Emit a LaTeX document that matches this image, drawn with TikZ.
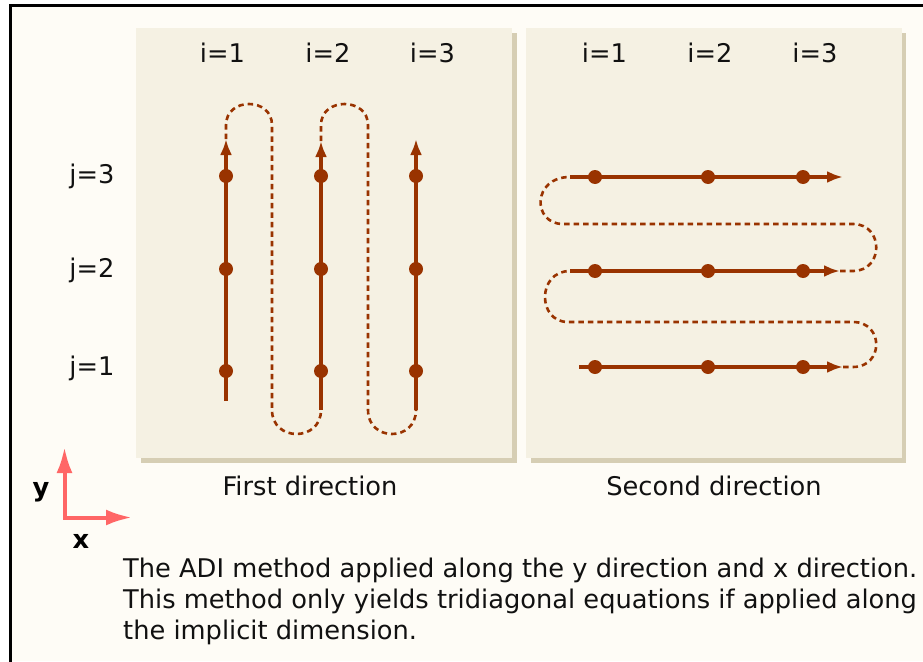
\documentclass[tikz,border=0pt]{standalone}
\usepackage{fontspec}
\setmainfont{DejaVu Sans}
\usetikzlibrary{arrows.meta}
\definecolor{bgc}{HTML}{FEFCF6}
\definecolor{panelc}{HTML}{F5F1E3}
\definecolor{shadowc}{HTML}{D6CEB4}
\definecolor{pathbrown}{HTML}{993300}
\definecolor{axisred}{HTML}{FF6666}
\definecolor{txt}{HTML}{111111}
\tikzset{
  solidarr/.style={draw=pathbrown, line width=3.5pt, -{Latex[length=16pt,width=12pt]}},
  dashc/.style={draw=pathbrown, line width=2.6pt, dash pattern=on 5.5pt off 4pt},
  dotn/.style={circle, fill=pathbrown, minimum size=14pt, inner sep=0pt},
  lab/.style={font=\fontsize{25.7}{30}\selectfont, inner sep=0pt, anchor=base, text=txt},
  caplab/.style={font=\fontsize{25.7}{30}\selectfont, inner sep=0pt, anchor=base west, text=txt},
  axlab/.style={font=\fontsize{25.7}{30}\selectfont\bfseries, inner sep=0pt, anchor=base, text=black},
  panelbox/.style={fill=panelc},
  shadowbox/.style={fill=shadowc},
  axisarr/.style={draw=axisred, line width=4pt, miter limit=10, {Latex[length=26pt,width=16pt]}-{Latex[length=26pt,width=16pt]}}
}
\begin{document}
\begin{tikzpicture}[x=1pt,y=-1pt]
\useasboundingbox (0,0) rectangle (923,661);
\clip (0,0) rectangle (923,661);
\fill[white] (0,0) rectangle (923,661);
\fill[bgc] (10,6) rectangle (923,661);
\draw[black, line width=3pt] (10,665) -- (10,6) -- (927,6);

% panels
\fill[shadowbox] (141,33) rectangle (517,463);
\fill[panelbox] (136,28) rectangle (512,458);
\fill[shadowbox] (531,33) rectangle (906,463);
\fill[panelbox] (526,28) rectangle (902,458);

% labels
\node[lab] (pi1) at (222.5,63) {i=1};
\node[lab] (pi2) at (328,63) {i=2};
\node[lab] (pi3) at (432.5,63) {i=3};
\node[lab] (qi1) at (604.5,63) {i=1};
\node[lab] (qi2) at (710,63) {i=2};
\node[lab] (qi3) at (815,63) {i=3};
\node[lab] (j3) at (92,183) {j=3};
\node[lab] (j2) at (92,277) {j=2};
\node[lab] (j1) at (92,375) {j=1};
\node[lab] (t1) at (310,495) {First direction};
\node[lab] (t2) at (714,495) {Second direction};
\node[caplab] (c1) at (123,577) {The ADI method applied along the y direction and x direction.};
\node[caplab] (c2) at (123,608) {This method only yields tridiagonal equations if applied along};
\node[caplab] (c3) at (123,639) {the implicit dimension.};

% axes
\coordinate (ay) at (64.5,447);
\coordinate (ao) at (64.5,517.5);
\coordinate (ax) at (132,517.5);
\draw[axisarr] (ay) -- (ao) -- (ax);
\node[axlab] (ylab) at (41,496) {y};
\node[axlab] (xlab) at (81,548) {x};

% panel 1 coordinates
\coordinate (a1b) at (226,401); \coordinate (a1t) at (226,139);
\coordinate (a2b) at (321,410); \coordinate (a2t) at (321,141);
\coordinate (a3b) at (416,410); \coordinate (a3t) at (416,139);
\draw[dashc] (a1t) -- (226,125) .. controls (226,97) and (272,97) .. (272,125) -- (272,410) .. controls (272,442) and (321,442) .. (a2b);
\draw[dashc] (a2t) -- (321,125) .. controls (321,97) and (368,97) .. (368,125) -- (368,410) .. controls (368,442) and (416,442) .. (a3b);
\draw[solidarr] (a1b) -- (a1t);
\draw[solidarr] (a2b) -- (a2t);
\draw[solidarr] (a3b) -- (a3t);
\foreach \x/\n in {226/1,321/2,416/3}{
  \node[dotn] (p\n a) at (\x,176) {};
  \node[dotn] (p\n b) at (\x,269) {};
  \node[dotn] (p\n c) at (\x,371) {};
}

% panel 2 coordinates
\coordinate (b3l) at (570,177); \coordinate (b3r) at (843,177);
\coordinate (b2l) at (570,271); \coordinate (b2r) at (840,271);
\coordinate (b1l) at (579,367); \coordinate (b1r) at (843,367);
\draw[dashc] (b1r) -- (853,367) .. controls (884,367) and (884,322) .. (853,322) -- (568,322) .. controls (537,322) and (537,271) .. (b2l);
\draw[dashc] (b2r) -- (853,271) .. controls (884,271) and (884,224) .. (853,224) -- (563,224) .. controls (532,224) and (532,177) .. (b3l);
\draw[solidarr] (b1l) -- (b1r);
\draw[solidarr] (b2l) -- (b2r);
\draw[solidarr] (b3l) -- (b3r);
\foreach \y/\n in {177/3,271/2,367/1}{
  \node[dotn] (q\n a) at (595,\y) {};
  \node[dotn] (q\n b) at (708,\y) {};
  \node[dotn] (q\n c) at (803,\y) {};
}
\end{tikzpicture}
\end{document}
